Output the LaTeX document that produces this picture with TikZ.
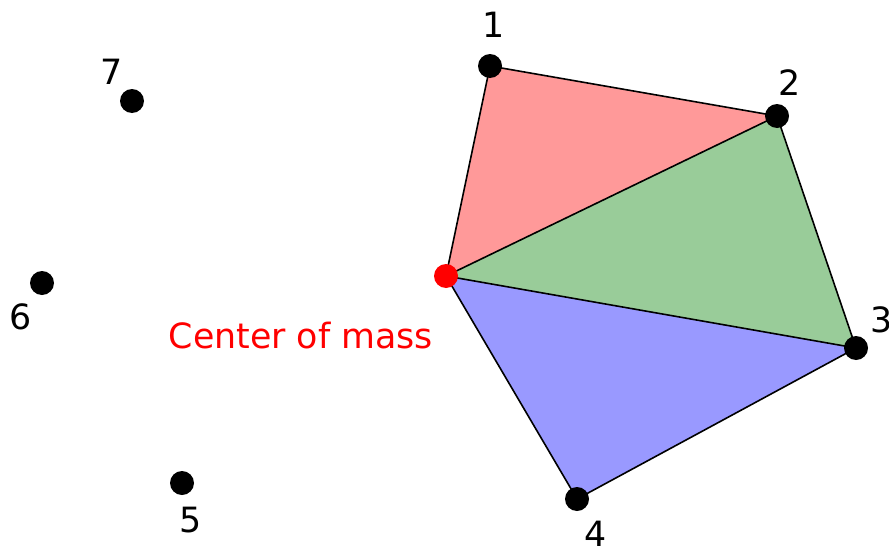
\documentclass[tikz,border=0pt]{standalone}
\usepackage{fontspec}
\setmainfont{DejaVu Sans}
\usepackage{xcolor}
\usetikzlibrary{backgrounds}
\definecolor{trired}{HTML}{FF9999}
\definecolor{trigreen}{HTML}{99CC99}
\definecolor{triblue}{HTML}{9999FF}
\tikzset{
  %% Points
  pt/.style={circle, fill=black, inner sep=0pt, minimum size=24pt},
  cmpt/.style={pt, fill=red},
  %% Point labels
  ptlabel/.style={font=\fontsize{34.8}{40}\selectfont, inner sep=0pt},
  %% Edges
  edge/.style={line width=1.6pt, black},
}

\begin{document}
\begin{tikzpicture}[x=1pt, y=-1pt]
  \useasboundingbox (0,0) rectangle (889,546);

  \node[cmpt] (cm) at (446,276) {};
  \node[pt] (p1) at (490,66) {};
  \node[pt] (p2) at (777,116) {};
  \node[pt] (p3) at (856,348) {};
  \node[pt] (p4) at (577,499) {};
  \node[pt] (p5) at (182,483) {};
  \node[pt] (p6) at (42,283) {};
  \node[pt] (p7) at (132,101) {};

  \node[ptlabel] (l1) at (494,25) {1};
  \node[ptlabel] (l2) at (790,83) {2};
  \node[ptlabel] (l3) at (882,320) {3};
  \node[ptlabel] (l4) at (596,534) {4};
  \node[ptlabel] (l5) at (191,520) {5};
  \node[ptlabel] (l6) at (21,317) {6};
  \node[ptlabel] (l7) at (112,72) {7};

  \node[ptlabel, text=red] (cmlabel) at (301,336) {Center of mass};

  %% Triangles from the center of mass
  \begin{scope}[on background layer]
    \fill[trired] (cm.center) -- (p1.center) -- (p2.center) -- cycle;
    \fill[trigreen] (cm.center) -- (p2.center) -- (p3.center) -- cycle;
    \fill[triblue] (cm.center) -- (p3.center) -- (p4.center) -- cycle;
    \draw[edge] (cm.center) -- (p1.center) -- (p2.center) -- (p3.center)
                -- (p4.center) -- (cm.center);
    \draw[edge] (cm.center) -- (p2.center);
    \draw[edge] (cm.center) -- (p3.center);
  \end{scope}

\end{tikzpicture}
\end{document}
